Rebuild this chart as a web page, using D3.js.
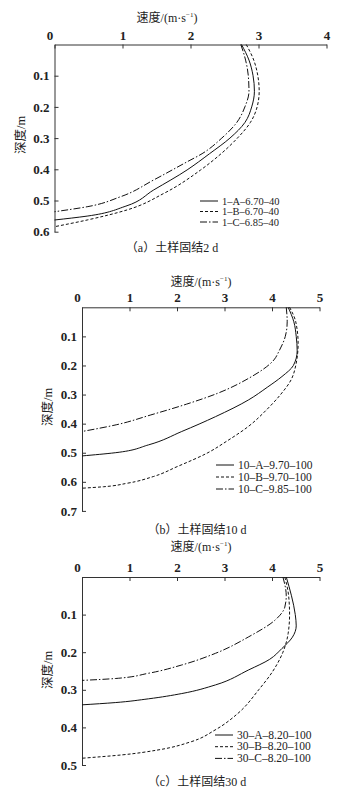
<!DOCTYPE html>
<html>
<head>
<meta charset="utf-8">
<script src="https://cdn.jsdelivr.net/npm/d3@7"></script>
<style>
  body { margin: 0; background: #fff; }
  svg text { font-family: "Liberation Serif", "Noto Sans CJK SC", serif; fill: #222; }
</style>
</head>
<body>
<div id="chart-area"></div>
<script>
// DATA: [depth (m), velocity (m/s)]
// panel (a) 2 d
const a1A = [[0,2.75],[0.05,2.86],[0.1,2.92],[0.15,2.94],[0.2,2.9],[0.25,2.8],[0.3,2.58],[0.35,2.28],[0.402,1.95],[0.466,1.46],[0.518,1.05],[0.55,0.48],[0.5625,0]]
const a1B = [[0,2.82],[0.05,2.93],[0.1,2.99],[0.15,3.01],[0.2,2.98],[0.25,2.88],[0.3,2.69],[0.35,2.45],[0.402,2.15],[0.477,1.61],[0.53,1.07],[0.5625,0.48],[0.584,0]]
const a1C = [[0,2.74],[0.05,2.81],[0.1,2.85],[0.15,2.86],[0.2,2.8],[0.25,2.68],[0.3,2.46],[0.35,2.17],[0.376,1.95],[0.434,1.46],[0.488,0.97],[0.52,0.48],[0.536,0]]
// panel (b) 10 d
const b10A = [[0,4.34],[0.05,4.46],[0.1,4.51],[0.15,4.53],[0.2,4.45],[0.238,4.21],[0.275,3.9],[0.318,3.51],[0.376,2.81],[0.427,2.1],[0.473,1.4],[0.5,0.7],[0.511,0]]
const b10B = [[0,4.37],[0.05,4.5],[0.125,4.55],[0.2,4.5],[0.25,4.4],[0.3,4.18],[0.35,3.9],[0.41,3.5],[0.46,3.05],[0.5,2.65],[0.548,2.0],[0.582,1.5],[0.605,0.95],[0.617,0.45],[0.622,0]]
const b10C = [[0,4.3],[0.05,4.32],[0.1,4.28],[0.15,4.15],[0.181,4.04],[0.244,3.51],[0.296,2.85],[0.333,2.2],[0.37,1.45],[0.404,0.72],[0.427,0]]
// panel (c) 30 d
const c30A = [[0,4.3],[0.05,4.41],[0.1,4.49],[0.13,4.51],[0.16,4.43],[0.19,4.21],[0.219,3.95],[0.247,3.51],[0.287,2.81],[0.31,2.1],[0.324,1.4],[0.334,0.7],[0.34,0]]
const c30B = [[0,4.27],[0.05,4.35],[0.1,4.37],[0.15,4.34],[0.2,4.23],[0.25,4.02],[0.3,3.72],[0.363,3.28],[0.407,2.8],[0.438,2.3],[0.46,1.6],[0.473,0.85],[0.482,0]]
const c30C = [[0,4.23],[0.05,4.3],[0.08,4.27],[0.114,4.07],[0.159,3.51],[0.203,2.81],[0.234,2.1],[0.256,1.4],[0.27,0.7],[0.275,0]]

const legendA = ['1–A–6.70–40', '1–B–6.70–40', '1–C–6.85–40']
const legendB = ['10–A–9.70–100', '10–B–9.70–100', '10–C–9.85–100']
const legendC = ['30–A–8.20–100', '30–B–8.20–100', '30–C–8.20–100']

const xTicksA = [0, 1, 2, 3, 4]
const xTicksBC = [0, 1, 2, 3, 4, 5]
const yTicksA = [0.1, 0.2, 0.3, 0.4, 0.5, 0.6]
const yTicksB = [0.1, 0.2, 0.3, 0.4, 0.5, 0.6, 0.7]
const yTicksC = [0.1, 0.2, 0.3, 0.4, 0.5]

const captions = ['（a）土样固结2 d', '（b）土样固结10 d', '（c）土样固结30 d']

// line styles: solid, dashed, dash-dot
const dashes = [null, '3,2', '7,2,1.5,2']

const svg = d3.select('#chart-area')
              .append('svg')
              .attr('width', 354)
              .attr('height', 792)

function drawPanel(p) {
    let x = d3.scaleLinear().domain([0, p.xMax]).range([p.left, p.right])
    let y = d3.scaleLinear().domain([0, p.yMax]).range([p.top, p.bottom])

    // top axis, ticks pointing inward
    svg.append('g')
       .attr('transform', `translate(0,${p.top})`)
       .call(d3.axisTop(x).tickValues(p.xTicks).tickSize(-4).tickSizeOuter(0).tickPadding(5).tickFormat(d3.format('d')))
       .call(g => g.selectAll('text').attr('font-size', 13).attr('font-weight', 'bold').attr('fill', '#222'))
       .call(g => g.selectAll('text').filter(d => d === 0).attr('dx', -5))

    // left axis
    svg.append('g')
       .attr('transform', `translate(${p.left},0)`)
       .call(d3.axisLeft(y).tickValues(p.yTicks).tickSize(-4).tickSizeOuter(0).tickPadding(5).tickFormat(d3.format('.1f')))
       .call(g => g.selectAll('text').attr('font-size', 13).attr('font-weight', 'bold').attr('fill', '#222'))

    svg.selectAll('.domain, .tick line').attr('stroke', '#333')

    // title
    let t = svg.append('text')
               .attr('x', p.titleX)
               .attr('y', p.titleY)
               .attr('text-anchor', 'middle')
               .attr('font-size', 12)
    t.append('tspan').text('速度/(m·s')
    t.append('tspan').attr('font-size', 7).attr('dy', -5).text('−1')
    t.append('tspan').attr('dy', 5).text(')')

    svg.append('text')
       .attr('transform', `translate(${p.yLabelX},${p.yLabelY}) rotate(-90)`)
       .attr('text-anchor', 'middle')
       .attr('font-size', 12.5)
       .text('深度/m')

    let line = d3.line()
                 .x(d => x(d[1]))
                 .y(d => y(d[0]))
                 .curve(d3.curveMonotoneY)

    svg.selectAll(null).data(p.series).enter()
       .append('path')
       .attr('d', d => line(d))
       .attr('fill', 'none')
       .attr('stroke', '#111')
       .attr('stroke-width', 1)
       .attr('stroke-dasharray', (d, i) => dashes[i])

    // legend
    p.names.forEach((n, i) => {
        let ly = p.legY + i * p.legStep
        svg.append('line')
           .attr('x1', p.legX).attr('x2', p.legX + 18)
           .attr('y1', ly).attr('y2', ly)
           .attr('stroke', '#111')
           .attr('stroke-dasharray', dashes[i])
        svg.append('text')
           .attr('x', p.legX + 22)
           .attr('y', ly + 3.5)
           .attr('font-size', p.legFont)
           .text(n)
    })

    svg.append('text')
       .attr('x', p.capX)
       .attr('y', p.capY)
       .attr('text-anchor', 'middle')
       .attr('font-size', 12)
       .text(p.caption)
}

drawPanel({ xMax: 4, yMax: 0.6, left: 54.5, right: 326.5, top: 44.5, bottom: 231.7,
            xTicks: xTicksA, yTicks: yTicksA, series: [a1A, a1B, a1C], names: legendA,
            titleX: 167, titleY: 22, yLabelX: 25, yLabelY: 135,
            legX: 200, legY: 201, legStep: 10.5, legFont: 10.5, capX: 172, capY: 252, caption: captions[0] })

drawPanel({ xMax: 5, yMax: 0.7, left: 82, right: 319.5, top: 307.3, bottom: 510.9,
            xTicks: xTicksBC, yTicks: yTicksB, series: [b10A, b10B, b10C], names: legendB,
            titleX: 201, titleY: 286, yLabelX: 52, yLabelY: 407,
            legX: 216, legY: 465, legStep: 12, legFont: 11.5, capX: 197, capY: 534, caption: captions[1] })

drawPanel({ xMax: 5, yMax: 0.5, left: 82, right: 319.5, top: 577, bottom: 765,
            xTicks: xTicksBC, yTicks: yTicksC, series: [c30A, c30B, c30C], names: legendC,
            titleX: 201, titleY: 551, yLabelX: 52, yLabelY: 670,
            legX: 215, legY: 735, legStep: 11.7, legFont: 11.5, capX: 197, capY: 786, caption: captions[2] })
</script>
</body>
</html>
